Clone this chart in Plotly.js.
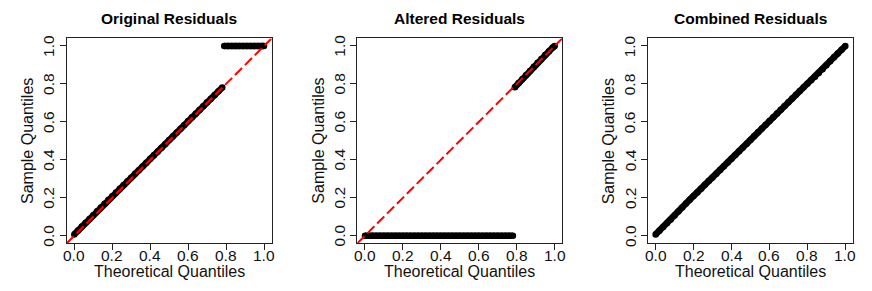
<!DOCTYPE html>
<html>
<head>
<meta charset="utf-8">
<script src="https://cdn.plot.ly/plotly-3.0.1.min.js"></script>
<style>html,body{margin:0;padding:0;background:#fff;}#chart{width:872px;height:291px;}</style>
</head>
<body>
<div id="chart"></div>
<script>
// ---- Data ----
const panelTitles = ["Original Residuals", "Altered Residuals", "Combined Residuals"];
const xAxisLabel = "Theoretical Quantiles";
const yAxisLabel = "Sample Quantiles";
const tickValues = [0, 0.2, 0.4, 0.6, 0.8, 1.0];
const tickLabels = ["0.0", "0.2", "0.4", "0.6", "0.8", "1.0"];
const axisRange = [-0.04, 1.04];
const refSlope = 1;
const refIntercept = 0;

// Original residuals: lower part on the diagonal, upper part fixed at 1
const origTheoLow = [0.00,0.02,0.04,0.06,0.08,0.10,0.12,0.14,0.16,0.18,0.20,0.22,0.24,0.26,0.28,0.30,0.32,0.34,0.36,0.38,0.40,0.42,0.44,0.46,0.48,0.50,0.52,0.54,0.56,0.58,0.60,0.62,0.64,0.66,0.68,0.70,0.72,0.74,0.76,0.78];
const origSampLow = [0.007,0.027,0.048,0.068,0.088,0.108,0.129,0.149,0.169,0.189,0.208,0.228,0.247,0.267,0.287,0.306,0.326,0.345,0.365,0.385,0.405,0.425,0.444,0.464,0.484,0.504,0.524,0.544,0.564,0.584,0.604,0.624,0.643,0.663,0.683,0.703,0.722,0.742,0.762,0.781];
const origTheoHigh = [0.79,0.81,0.83,0.85,0.87,0.89,0.91,0.93,0.95,0.97,0.99,1.00];
const origSampHigh = [1,1,1,1,1,1,1,1,1,1,1,1];

// Altered residuals: lower part fixed at 0, upper part on the diagonal
const altTheoLow = [0.00,0.02,0.04,0.06,0.08,0.10,0.12,0.14,0.16,0.18,0.20,0.22,0.24,0.26,0.28,0.30,0.32,0.34,0.36,0.38,0.40,0.42,0.44,0.46,0.48,0.50,0.52,0.54,0.56,0.58,0.60,0.62,0.64,0.66,0.68,0.70,0.72,0.74,0.76,0.78];
const altSampLow = [0,0,0,0,0,0,0,0,0,0,0,0,0,0,0,0,0,0,0,0,0,0,0,0,0,0,0,0,0,0,0,0,0,0,0,0,0,0,0,0];
const altTheoHigh = [0.79,0.81,0.83,0.85,0.87,0.89,0.91,0.93,0.95,0.97,0.99,1.00];
const altSampHigh = [0.783,0.805,0.826,0.847,0.868,0.890,0.911,0.932,0.952,0.972,0.992,1.000];

// Combined residuals
const combTheo = [0.00,0.02,0.04,0.06,0.08,0.10,0.12,0.14,0.16,0.18,0.20,0.22,0.24,0.26,0.28,0.30,0.32,0.34,0.36,0.38,0.40,0.42,0.44,0.46,0.48,0.50,0.52,0.54,0.56,0.58,0.60,0.62,0.64,0.66,0.68,0.70,0.72,0.74,0.76,0.78,0.80,0.82,0.84,0.86,0.88,0.90,0.92,0.94,0.96,0.98,1.00];
const combSamp = [0.007,0.026,0.046,0.066,0.086,0.106,0.128,0.149,0.170,0.190,0.209,0.228,0.248,0.268,0.288,0.307,0.327,0.346,0.366,0.386,0.405,0.425,0.445,0.465,0.485,0.505,0.525,0.545,0.565,0.585,0.604,0.624,0.644,0.664,0.684,0.704,0.723,0.743,0.763,0.782,0.801,0.820,0.838,0.857,0.878,0.899,0.920,0.940,0.960,0.980,1.000];

const panelSeries = [
  [[origTheoLow, origSampLow], [origTheoHigh, origSampHigh]],
  [[altTheoLow, altSampLow], [altTheoHigh, altSampHigh]],
  [[combTheo, combSamp]]
];
const showRefLine = [true, true, false];

// ---- Build ----
const W = 872, H = 291;
const panelW = W / 3;
const boxLeft = 66.7, boxRight = 271.6;   // px within each panel
const boxTop = 38.4, boxBottom = 243.3;   // px from top
const font = "Liberation Sans, Arial, Helvetica, sans-serif";
const ink = "#222";
const tickFont = {family: font, size: 15.5, color: "#111"};

const traces = [];
const layout = {
  width: W, height: H,
  margin: {l: 0, r: 0, t: 0, b: 0},
  paper_bgcolor: "#fff", plot_bgcolor: "#fff",
  showlegend: false,
  font: {family: font, color: "#000"},
  annotations: []
};

for (let i = 0; i < 3; i++) {
  const sfx = i === 0 ? "" : String(i + 1);
  const xa = "x" + sfx, ya = "y" + sfx;
  const off = i * panelW;
  const xd = [(off + boxLeft) / W, (off + boxRight) / W];
  const yd = [(H - boxBottom) / H, (H - boxTop) / H];
  const axisCommon = {
    range: axisRange, showline: true, mirror: true, linecolor: ink, linewidth: 1,
    ticks: "outside", ticklen: 6, tickwidth: 1, tickcolor: ink,
    tickvals: tickValues, showticklabels: false,
    showgrid: false, zeroline: false, fixedrange: true
  };
  layout["xaxis" + sfx] = Object.assign({}, axisCommon, {domain: xd, anchor: ya});
  layout["yaxis" + sfx] = Object.assign({}, axisCommon, {domain: yd, anchor: xa});

  panelSeries[i].forEach(function (s) {
    traces.push({
      x: s[0], y: s[1], xaxis: xa, yaxis: ya, type: "scatter", mode: "lines+markers",
      line: {color: "#000", width: 6.5},
      marker: {color: "#000", size: 6.5},
      hoverinfo: "skip"
    });
  });
  if (showRefLine[i]) {
    traces.push({
      x: axisRange, y: axisRange.map(v => refIntercept + refSlope * v),
      xaxis: xa, yaxis: ya, type: "scatter", mode: "lines",
      line: {color: "#ff0000", width: 2, dash: "10px,4px"},
      hoverinfo: "skip"
    });
  }

  // tick labels placed on the axes' own scales
  tickValues.forEach(function (v, k) {
    layout.annotations.push({
      text: tickLabels[k], xref: xa, yref: "paper", x: v, y: 1 - 255 / H,
      xanchor: "center", yanchor: "middle", showarrow: false, font: tickFont
    });
    layout.annotations.push({
      text: tickLabels[k], xref: "paper", yref: ya, x: (off + 49) / W, y: v,
      xanchor: "center", yanchor: "middle", showarrow: false, textangle: -90, font: tickFont
    });
  });

  const cx = (off + (boxLeft + boxRight) / 2) / W;
  layout.annotations.push({
    text: "<b>" + panelTitles[i] + "</b>", xref: "paper", yref: "paper",
    x: cx, y: 1 - 19 / H, xanchor: "center", yanchor: "middle", showarrow: false,
    font: {family: font, size: 15.5, color: "#000"}
  });
  layout.annotations.push({
    text: xAxisLabel, xref: "paper", yref: "paper",
    x: cx, y: 1 - 271 / H, xanchor: "center", yanchor: "middle", showarrow: false,
    font: {family: font, size: 16, color: "#111"}
  });
  layout.annotations.push({
    text: yAxisLabel, xref: "paper", yref: "paper",
    x: (off + 27) / W, y: 1 - 141 / H, xanchor: "center", yanchor: "middle", showarrow: false,
    textangle: -90,
    font: {family: font, size: 16, color: "#111"}
  });
}

Plotly.newPlot("chart", traces, layout, {staticPlot: true, displayModeBar: false});
</script>
</body>
</html>
